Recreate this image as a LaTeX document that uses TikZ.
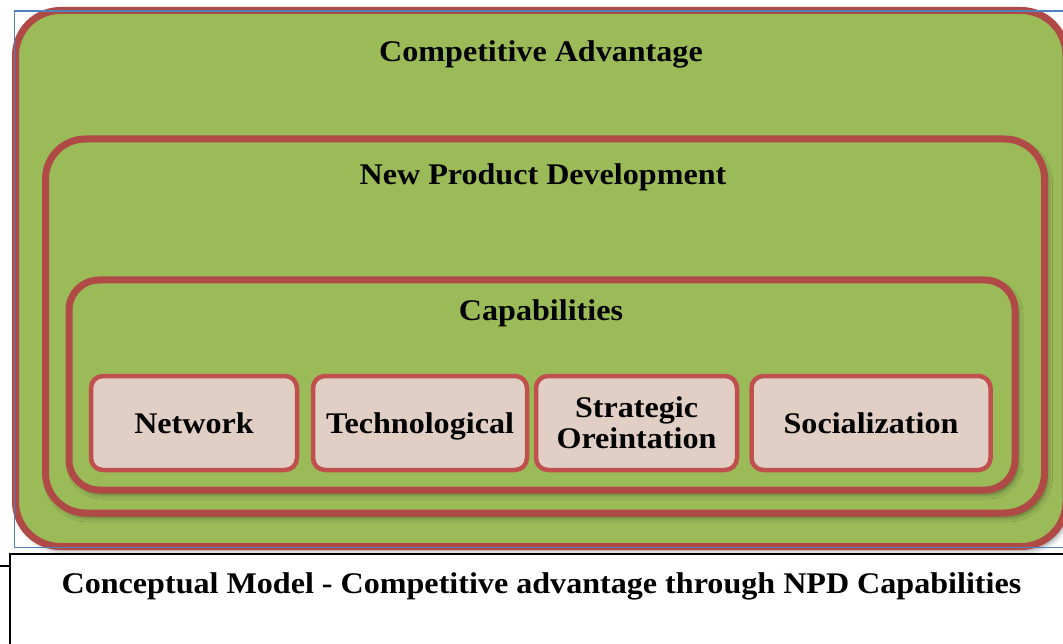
\documentclass[tikz,border=0pt]{standalone}
\usepackage{fontspec}
\setmainfont[FakeStretch=1.07]{Liberation Serif}
\usetikzlibrary{shadows.blur}
\definecolor{cgreen}{HTML}{9BBB59}
\definecolor{cred}{HTML}{AF4A47}
\definecolor{cred2}{HTML}{C0504D}
\definecolor{cfill}{HTML}{E1CFC6}
\definecolor{cblue}{HTML}{4F81BD}
\tikzset{
  lbl/.style={font=\bfseries\fontsize{30}{31}\selectfont, inner sep=0pt},
  bigbox/.style={draw=cred, fill=cgreen, line width=7pt, inner sep=0pt,
    blur shadow={shadow xshift=3pt, shadow yshift=-4pt, shadow blur radius=5pt, shadow opacity=45}},
  capbox/.style={draw=cred2, fill=cfill, line width=4.5pt, rounded corners=12pt,
    minimum height=94pt, inner sep=0pt, lbl, align=center},
  onebox/.style={capbox, text height=20pt, text depth=0pt}
}
\begin{document}
\begin{tikzpicture}[x=1pt,y=-1pt]
\useasboundingbox (0,0) rectangle (1063,644);
\clip (0,0) rectangle (1063,644);
% outer
\node[bigbox, rounded corners=45pt, minimum width=1050.5pt, minimum height=536pt] (outer) at (540.75,278.5) {};
\node[lbl, anchor=base] (tca) at (541,62) {Competitive Advantage};
% NPD
\node[bigbox, rounded corners=40pt, minimum width=999pt, minimum height=374pt] (npd) at (545,326) {};
\node[lbl, anchor=base] (tnpd) at (543,185) {New Product Development};
% Capabilities
\node[bigbox, rounded corners=30pt, minimum width=946pt, minimum height=210pt] (caps) at (542,385) {};
\node[lbl, anchor=base] (tcaps) at (541,321) {Capabilities};
% inner boxes
\node[onebox, minimum width=206pt] (net) at (194,423) {Network};
\node[onebox, minimum width=214pt] (tech) at (420,423) {Technological};
\node[capbox, minimum width=201pt] (strat) at (636.5,423) {Strategic\\Oreintation};
\node[onebox, minimum width=239pt] (soc) at (871,423) {Socialization};
% blue frame
\node[draw=cblue, line width=1.3pt, minimum width=1060pt, minimum height=536pt, inner sep=0pt, anchor=north west] (bframe) at (14,10.5) {};
% caption frame
\node[draw=black, line width=1.8pt, minimum width=1070pt, minimum height=100pt, inner sep=0pt, anchor=north west] (capframe) at (9,553) {};
\coordinate (lstart) at (0,566);
\draw[line width=1.8pt] (lstart) -- (capframe.west |- lstart);
\node[lbl, anchor=base] (caption) at (541.5,593) {Conceptual Model - Competitive advantage through NPD Capabilities};
\end{tikzpicture}
\end{document}
